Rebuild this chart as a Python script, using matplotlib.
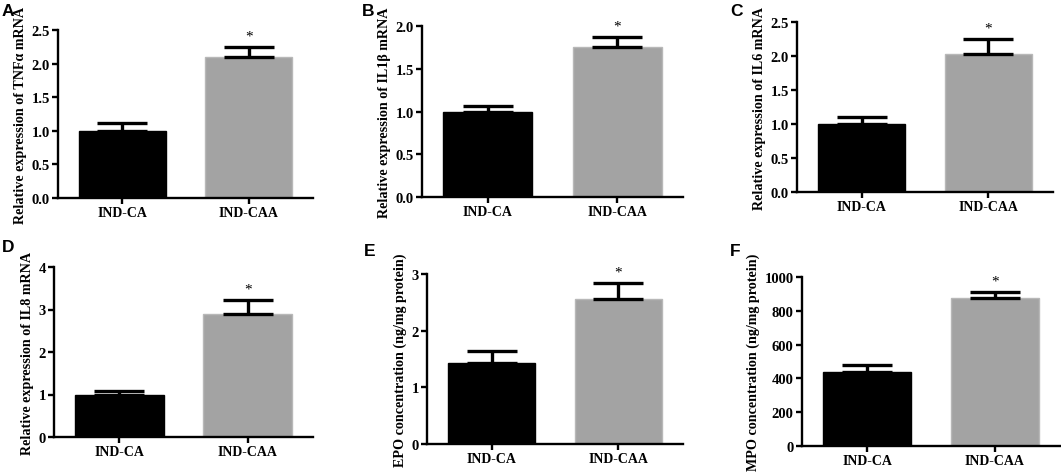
import matplotlib.pyplot as plt

plt.rcParams['font.family'] = ['Liberation Serif', 'DejaVu Serif']
plt.rcParams['font.weight'] = 'bold'

groups = ['IND-CA', 'IND-CAA']

letters = ['A', 'B', 'C', 'D', 'E', 'F']
ylabels = ['Relative expression of TNFα mRNA',
           'Relative expression of IL1β mRNA',
           'Relative expression of IL6 mRNA',
           'Relative expression of IL8 mRNA',
           'EPO concentration (ng/mg protein)',
           'MPO concentration (ng/mg protein)']
means = [[1.0, 2.1], [1.0, 1.75], [1.0, 2.03],
         [1.0, 2.9], [1.43, 2.56], [440, 875]]
errs = [[0.11, 0.15], [0.06, 0.12], [0.10, 0.22],
        [0.08, 0.32], [0.22, 0.29], [40, 37]]
yticks = [[0, 0.5, 1.0, 1.5, 2.0, 2.5],
          [0, 0.5, 1.0, 1.5, 2.0],
          [0, 0.5, 1.0, 1.5, 2.0, 2.5],
          [0, 1, 2, 3, 4],
          [0, 1, 2, 3],
          [0, 200, 400, 600, 800, 1000]]
ytick_fmt = ['{:.1f}', '{:.1f}', '{:.1f}', '{:.0f}', '{:.0f}', '{:.0f}']

# axes boxes in pixels: x_left, x_right, y_top, y_bottom
boxes = [(58, 313, 31, 199), (422, 683, 27, 198), (797, 1053, 23, 193),
         (54, 313, 268, 438), (427, 683, 275, 445), (802, 1060, 278, 447)]
letter_pos = [(2, 16), (362, 16), (730, 16), (2, 252), (364, 256), (730, 256)]

W, H = 1061, 477
fig = plt.figure(figsize=(W / 100, H / 100), dpi=100)

for i in range(6):
    x0, x1, yt, yb = boxes[i]
    ax = fig.add_axes([x0 / W, 1 - yb / H, (x1 - x0) / W, (yb - yt) / H])
    xs = [0, 1]
    ax.bar(xs, means[i], width=0.69, color=['black', '#a3a3a3'],
           edgecolor=['black', '#b8b8b8'], linewidth=1, zorder=2)
    ax.errorbar(xs, means[i], yerr=[[0, 0], errs[i]], fmt='none',
                ecolor='black', elinewidth=2.4, capsize=18, capthick=2.4, zorder=3)
    top = means[i][1] + errs[i][1]
    ax.text(1, top + yticks[i][-1] * 0.025, '*', ha='center', va='bottom',
            fontsize=11, fontweight='normal')
    ax.set_xlim(-0.51, 1.51)
    ax.set_ylim(0, yticks[i][-1])
    ax.set_yticks(yticks[i])
    ax.set_yticklabels([ytick_fmt[i].format(v) for v in yticks[i]])
    ax.set_xticks(xs)
    ax.set_xticklabels(groups)
    ax.spines['top'].set_visible(False)
    ax.spines['right'].set_visible(False)
    for s in ['left', 'bottom']:
        ax.spines[s].set_linewidth(1.7)
    ax.tick_params(width=1.7, length=4, pad=2)
    ax.tick_params(axis='x', labelsize=10)
    ax.tick_params(axis='y', labelsize=10.5)
    ax.set_ylabel(ylabels[i], fontsize=10.2, fontweight='bold', labelpad=3)
    fig.text(letter_pos[i][0] / W, 1 - letter_pos[i][1] / H, letters[i],
             family='Liberation Sans', fontsize=12.5, fontweight='bold',
             ha='left', va='baseline')

fig.savefig('out.png', dpi=100)
